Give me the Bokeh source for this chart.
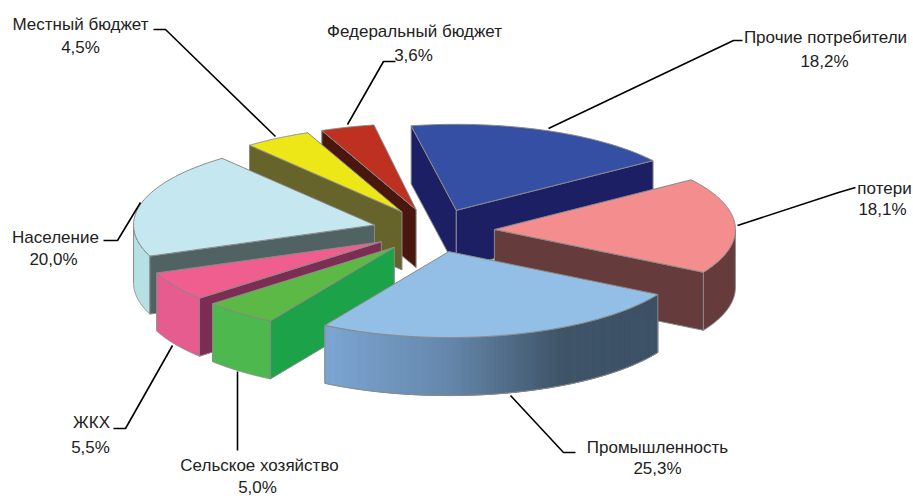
import numpy as np
from bokeh.plotting import figure
from bokeh.models import Range1d
from bokeh.core.properties import value
from bokeh.embed import file_html
from bokeh.resources import INLINE

# ---- data (clockwise from the first slice)
categories = ["Прочие потребители", "потери", "Промышленность", "Сельское хозяйство",
              "ЖКХ", "Население", "Местный бюджет", "Федеральный бюджет"]
shares = [18.2, 18.1, 25.3, 5.0, 5.5, 20.0, 4.5, 3.6]

# ---- styles
top_colors = ["#344FA3", "#F48E8E", "#93BEE5", "#5DB946", "#F05E90", "#C5E7EF", "#EEE718", "#BE3020"]
wall_colors = ["#1C1F63", "#663B3B", "#3D5166", "#1CA34A", "#7C2E52", "#516263", "#66642A", "#4A170E"]
arc_colors = ["#1C1F63", "#663B3B", None, "#4DB84D", "#E75C8E", "#B5E0E4", "#66642A", "#4A170E"]
draw_order = [7, 6, 0, 5, 4, 3, 1, 2]
gradient_stops_x = [322, 450, 560, 660]
gradient_stops_rgb = [(124, 166, 212), (100, 134, 170), (63, 84, 104), (61, 81, 102)]
edge = "#8A8A8A"

# ---- layout of the 3D pie (screen pixels)
CX, CY, RX, RY = 433.0, 230.0, 241.0, 86.0
DEPTH, EXPLODE, START = 58.0, 0.253, -10.8

# ---- labels and leaders (screen pixels)
label_x = [825, 884, 657, 259, 91, 55, 80, 414]
label_y = [37, 188, 447, 465, 422, 237, 24, 31]
pct_x = [824, 882, 657, 257, 90, 53, 80, 413]
pct_y = [61, 209, 468, 487, 447, 259, 47, 55]
leader_x = [[742, 733, 548], [855, 838, 737], [575, 563, 510], [237, 237],
            [113, 125, 172], [103, 117, 140], [153, 165, 275], [395, 383, 347]]
leader_y = [[40, 40, 128], [187, 192, 225], [452, 452, 395], [450, 371],
            [428, 428, 345], [240, 240, 202], [29, 29, 136], [61, 61, 124]]


def ell(ax, ay, deg):
    t = np.radians(deg)
    return ax + RX * np.sin(t), ay - RY * np.cos(t)


def grad(x):
    return "#%02X%02X%02X" % tuple(
        int(round(np.interp(x, gradient_stops_x, [c[i] for c in gradient_stops_rgb]))) for i in range(3))


p = figure(width=913, height=496, x_range=Range1d(0, 913), y_range=Range1d(496, 0),
           x_axis_type=None, y_axis_type=None, min_border=0,
           output_backend="svg", toolbar_location=None)
p.outline_line_color = None
p.grid.visible = False
p.background_fill_color = "white"
p.border_fill_color = "white"

edges = [START]
for s in shares:
    edges.append(edges[-1] + s * 3.6)

for i in draw_order:
    a0, a1 = edges[i], edges[i + 1]
    mid = np.radians((a0 + a1) / 2)
    ax = CX + EXPLODE * RX * np.sin(mid)
    ay = CY - EXPLODE * RY * np.cos(mid)
    # outer side wall: visible on the front half
    lo, hi = max(a0, 90.0), min(a1, 270.0)
    if lo < hi:
        th = np.linspace(lo, hi, 120)
        xa, ya = ell(ax, ay, th)
        if arc_colors[i] is None:
            for k in range(len(th) - 1):
                c = grad((xa[k] + xa[k + 1]) / 2)
                p.patch([xa[k], xa[k + 1], xa[k + 1], xa[k]],
                        [ya[k], ya[k + 1], ya[k + 1] + DEPTH, ya[k] + DEPTH],
                        fill_color=c, line_color=c, line_width=1)
            p.patch(list(xa) + list(xa[::-1]), list(ya) + list((ya + DEPTH)[::-1]),
                    fill_alpha=0, line_color=edge, line_width=1)
        else:
            p.patch(list(xa) + list(xa[::-1]), list(ya) + list((ya + DEPTH)[::-1]),
                    fill_color=arc_colors[i], line_color=edge, line_width=1)
    # radial walls: start wall on the left half, end wall on the right half
    for ang, show in ((a0, np.sin(np.radians(a0)) < 0), (a1, np.sin(np.radians(a1)) > 0)):
        if show:
            ex, ey = ell(ax, ay, ang)
            p.patch([ax, ex, ex, ax], [ay, ey, ey + DEPTH, ay + DEPTH],
                    fill_color=wall_colors[i], line_color=edge, line_width=1)
    # top surface
    th = np.linspace(a0, a1, 80)
    xt, yt = ell(ax, ay, th)
    p.patch([ax] + list(xt), [ay] + list(yt), fill_color=top_colors[i], line_color=edge, line_width=1)

p.multi_line(leader_x, leader_y, line_color="#000000", line_width=1.6)

pct_text = [("%.1f%%" % s).replace(".", ",") for s in shares]
p.text(label_x, label_y, text=categories, text_font=value("Liberation Sans"), text_font_size="17px",
       text_align="center", text_baseline="middle", text_color="#222222")
p.text(pct_x, pct_y, text=pct_text, text_font=value("Liberation Sans"), text_font_size="17px",
       text_align="center", text_baseline="middle", text_color="#222222")

open("out.html", "w").write(file_html(p, INLINE))
